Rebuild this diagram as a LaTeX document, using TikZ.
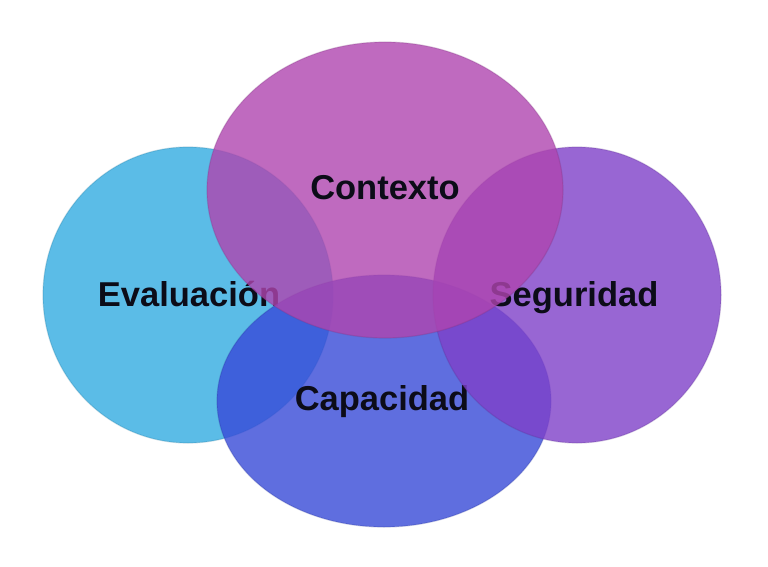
\documentclass[tikz,border=0pt]{standalone}
\usepackage{fontspec}
\setmainfont{Liberation Sans}
\usetikzlibrary{shapes.geometric}
\definecolor{cEval}{RGB}{50,172,226}
\definecolor{cCtx}{RGB}{175,69,175}
\definecolor{cSeg}{RGB}{127,64,201}
\definecolor{cCap}{RGB}{55,74,216}
\definecolor{txt}{RGB}{12,12,24}
\tikzset{
  blob/.style={ellipse, inner sep=0pt, fill=#1, fill opacity=0.8,
               draw=#1!70!black, draw opacity=0.25, line width=1.2pt},
  lbl/.style={anchor=base, text=txt, font=\fontsize{34.5}{40}\selectfont\bfseries, inner sep=0pt}
}
\begin{document}
\begin{tikzpicture}[x=1pt,y=-1pt]
\useasboundingbox (0,0) rectangle (768,567);
\fill[white] (0,0) rectangle (768,567);
\node[blob=cEval, minimum width=290pt, minimum height=296pt] (eval) at (188,295) {};
\node[lbl] (tEval) at (189,306) {Evaluación};
\node[blob=cCap, minimum width=334pt, minimum height=252pt] (cap) at (384,401) {};
\node[lbl] (tCap) at (382,410) {Capacidad};
\node[blob=cSeg, minimum width=288pt, minimum height=296pt] (seg) at (577,295) {};
\node[lbl] (tSeg) at (574,306) {Seguridad};
\node[blob=cCtx, minimum width=356pt, minimum height=296pt] (ctx) at (385,190) {};
\node[lbl] (tCtx) at (385,199) {Contexto};
\end{tikzpicture}
\end{document}
